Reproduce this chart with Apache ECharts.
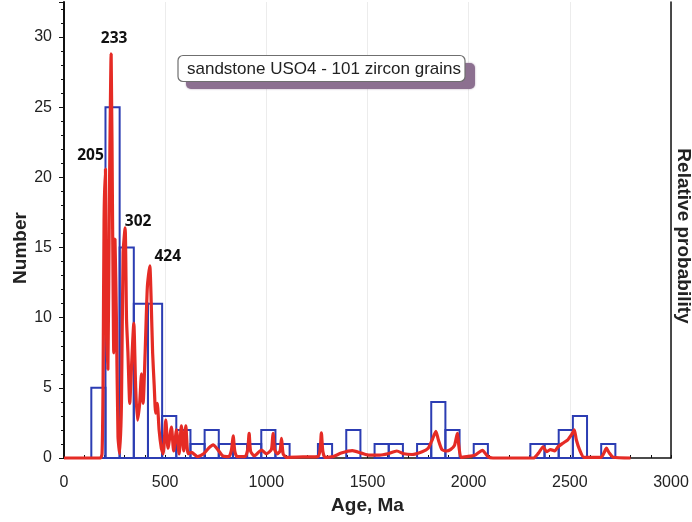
<!DOCTYPE html>
<html>
<head>
<meta charset="utf-8">
<script src="https://cdn.jsdelivr.net/npm/echarts@6/dist/echarts.min.js"></script>
<style>
  html, body { margin: 0; padding: 0; background: #fff; }
  #chart { width: 692px; height: 522px; }
</style>
</head>
<body>
<div id="chart"></div>
<script>
// Detrital zircon U-Pb ages: histogram of grain counts (70 Ma bins)
// with the relative probability curve laid over it.
const BIN_WIDTH = 70;
const binStarts = [135, 205, 275, 345, 415, 485, 555, 625, 695, 765, 835, 905, 975, 1045,
  1115, 1185, 1255, 1325, 1395, 1465, 1535, 1605, 1675, 1745, 1815, 1885, 1955, 2025,
  2095, 2165, 2235, 2305, 2375, 2445, 2515, 2585, 2655];
const binCounts = [5, 25, 15, 11, 11, 3, 2, 1, 2, 1, 1, 1, 2, 1,
  0, 0, 1, 0, 2, 0, 1, 1, 0, 1, 4, 2, 0, 1,
  0, 0, 0, 1, 1, 2, 3, 0, 1];

// Relative probability curve (age in Ma, height on the count scale)
const curveAges = [0, 180, 188, 193, 198, 205, 209, 217, 224, 233, 240, 246, 252, 259, 267, 275,
  284, 292, 302, 309, 316, 325, 333, 345, 354, 363, 374, 383, 391, 401, 412, 424, 431, 438,
  446, 453, 461, 470, 481, 490, 503, 514, 531, 542, 556, 569, 580, 592, 602, 613, 630, 660,
  690, 715, 737, 760, 785, 815, 828, 836, 844, 855, 895, 908, 915, 922, 940, 976, 1000, 1025,
  1033, 1041, 1055, 1068, 1075, 1083, 1100, 1200, 1255, 1266, 1272, 1279, 1290, 1330, 1370,
  1425, 1470, 1510, 1560, 1600, 1645, 1680, 1720, 1770, 1800, 1820, 1838, 1850, 1868, 1890,
  1910, 1930, 1944, 1952, 1962, 1990, 2030, 2068, 2095, 2120, 2320, 2345, 2368, 2385, 2405,
  2425, 2442, 2465, 2490, 2510, 2522, 2532, 2548, 2570, 2655, 2670, 2681, 2693, 2715, 2800];
const curveProb = [0, 0, 0.3, 5.1, 17, 20.6, 9.9, 6.3, 18, 28.8, 17, 7.5, 15.6, 9.9, 1.5, 0.3,
  3.9, 14.6, 16.4, 9.9, 7.5, 3.9, 6.3, 9.6, 5.1, 2.7, 3.9, 6.0, 3.9, 7.5, 12.2, 13.7, 11.1, 7.5,
  5.1, 3.2, 3.9, 2.0, 0.7, 0.3, 2.7, 0.7, 2.2, 0.5, 2.0, 0.3, 2.3, 0.5, 2.3, 0.3, 0.4, 0.1,
  0.3, 0.7, 0.93, 0.6, 0.15, 0.1, 0.6, 1.57, 0.5, 0.1, 0.1, 0.6, 1.76, 0.5, 0.15, 0.57, 0.3, 0.6,
  1.76, 0.6, 0.3, 0.5, 1.4, 0.3, 0.05, 0.08, 0.1, 0.6, 1.8, 0.5, 0.05, 0.1, 0.35,
  0.52, 0.35, 0.2, 0.2, 0.3, 0.5, 0.3, 0.25, 0.45, 0.7, 1.3, 1.9, 1.3, 0.6, 0.5,
  0.6, 0.9, 1.75, 0.8, 0.05, 0.1, 0.2, 0.55, 0.1, 0, 0, 0.35, 0.8, 0.45, 0.6,
  0.5, 0.8, 1.05, 1.3, 1.7, 2.0, 1.3, 0.6, 0.05, 0.05, 0.4, 0.7, 0.4, 0.05, 0];

// Labelled age peaks (Ma)
const peakAges = [205, 233, 302, 424];
const sampleNote = 'sandstone USO4 - 101 zircon grains';

// Placement of each peak label around its peak
const peakLabelPlacement = {
  205: { distance: 5, offset: [-15, 0] },
  233: { distance: 7, offset: [3, 0] },
  302: { distance: -2, offset: [13, 0] },
  424: { distance: 1, offset: [18, 0] }
};

const chart = echarts.init(document.getElementById('chart'), null, { renderer: 'canvas' });

const textColor = '#222';
const baseFont = 'Liberation Sans';
const titleStyle = { fontFamily: baseFont, fontWeight: 'bold', fontSize: 19, color: textColor };

const option = {
  animation: false,
  backgroundColor: '#fff',
  grid: { left: 64, right: 21, top: 2, bottom: 64, containLabel: false, outerBoundsMode: 'none' },
  xAxis: {
    type: 'value',
    min: 0,
    max: 3000,
    interval: 500,
    name: 'Age, Ma',
    nameLocation: 'middle',
    nameGap: 38,
    nameMoveOverlap: false,
    nameTextStyle: titleStyle,
    axisLine: { onZero: false, lineStyle: { color: '#111', width: 1.5 } },
    axisTick: { show: true, inside: true, length: 3, lineStyle: { color: '#111' } },
    minorTick: { show: true, splitNumber: 5, length: 3, lineStyle: { color: '#111' } },
    splitLine: { show: true, lineStyle: { color: '#ececec', width: 1 } },
    axisLabel: {
      fontFamily: baseFont, fontSize: 16, color: textColor, margin: 17,
      formatter: v => String(v)
    }
  },
  yAxis: [
    {
      type: 'value',
      position: 'left',
      min: 0,
      max: 32.5,
      interval: 5,
      name: 'Number',
      nameLocation: 'middle',
      nameGap: 34,
      nameMoveOverlap: false,
      nameTextStyle: Object.assign({}, titleStyle, { padding: [0, 0, 0, -36] }),
      axisLine: { show: true, lineStyle: { color: '#111', width: 2 } },
      axisTick: { show: true, inside: false, length: 5, lineStyle: { color: '#111' } },
      minorTick: { show: true, splitNumber: 5, length: 3, lineStyle: { color: '#111' } },
      splitLine: { show: false },
      axisLabel: { fontFamily: baseFont, fontSize: 16, color: textColor, margin: 12, showMaxLabel: false }
    },
    {
      type: 'value',
      position: 'right',
      min: 0,
      max: 32.5,
      name: 'Relative probability',
      nameLocation: 'middle',
      nameRotate: -90,
      nameGap: 3,
      nameMoveOverlap: false,
      nameTextStyle: Object.assign({}, titleStyle, { padding: [0, 0, 0, 12] }),
      axisLine: { show: true, lineStyle: { color: '#111', width: 1.5 } },
      axisTick: { show: false },
      axisLabel: { show: false },
      splitLine: { show: false }
    }
  ],
  graphic: [
    {
      type: 'rect',
      z: 10,
      shape: { x: 186, y: 63, width: 289, height: 26, r: 5 },
      style: { fill: '#8c7090', shadowBlur: 2, shadowColor: 'rgba(120,90,125,0.6)' }
    },
    {
      type: 'rect',
      z: 11,
      shape: { x: 178, y: 55.5, width: 287, height: 26, r: 5 },
      style: { fill: '#fff', stroke: '#6f6f6f', lineWidth: 1.2 }
    },
    {
      type: 'text',
      z: 12,
      x: 324,
      y: 69,
      style: {
        text: sampleNote,
        fill: textColor,
        font: '17px "Liberation Sans"',
        align: 'center',
        verticalAlign: 'middle'
      }
    }
  ],
  series: [
    {
      name: 'Count',
      type: 'custom',
      xAxisIndex: 0,
      yAxisIndex: 0,
      clip: false,
      z: 2,
      encode: { x: 0, y: 1 },
      data: binStarts.map((s, i) => [s, binCounts[i]]),
      renderItem: function (params, api) {
        const start = api.value(0);
        const count = api.value(1);
        if (!count) return null;
        const base = api.coord([start, 0]);
        const top = api.coord([start + BIN_WIDTH, count]);
        return {
          type: 'rect',
          shape: { x: base[0], y: top[1], width: top[0] - base[0], height: base[1] - top[1] },
          style: { fill: 'none', stroke: '#2c3db3', lineWidth: 2 }
        };
      }
    },
    {
      name: 'Relative probability',
      type: 'line',
      xAxisIndex: 0,
      yAxisIndex: 1,
      z: 3,
      clip: false,
      smooth: 0.2,
      showSymbol: false,
      lineStyle: { color: '#e52b25', width: 3.2 },
      itemStyle: { color: '#e52b25' },
      data: curveAges.map((a, i) => [a, curveProb[i]]),
      markPoint: {
        symbol: 'rect',
        symbolSize: 1,
        itemStyle: { color: 'rgba(0,0,0,0)' },
        animation: false,
        data: peakAges.map(age => {
          const idx = curveAges.indexOf(age);
          const place = peakLabelPlacement[age];
          return {
            coord: [age, curveProb[idx]],
            value: age,
            label: {
              show: true,
              position: 'top',
              distance: place.distance,
              offset: place.offset,
              formatter: '{c}',
              fontFamily: 'Open Sans',
              fontWeight: 'bold',
              fontSize: 15.5,
              color: '#111'
            }
          };
        })
      }
    }
  ]
};

chart.setOption(option);
</script>
</body>
</html>
